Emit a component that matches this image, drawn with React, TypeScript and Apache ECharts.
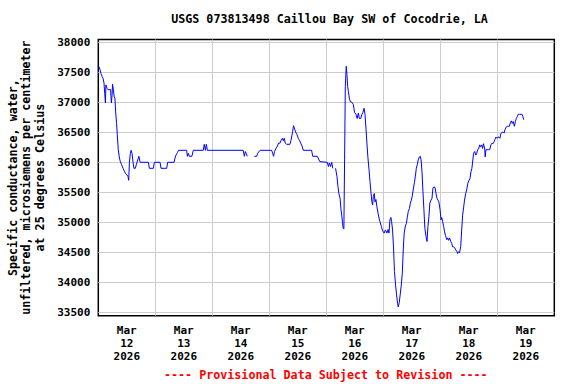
import React, { useEffect, useRef } from 'react';
import * as echarts from 'echarts';

const TITLE = 'USGS 073813498 Caillou Bay SW of Cocodrie, LA';
const Y_TITLE = 'Specific conductance, water,\nunfiltered, microsiemens per centimeter\nat 25 degrees Celsius';
const FOOTNOTE = '---- Provisional Data Subject to Revision ----';
const DAY_LABELS = ['Mar\n12\n2026', 'Mar\n13\n2026', 'Mar\n14\n2026', 'Mar\n15\n2026', 'Mar\n16\n2026', 'Mar\n17\n2026', 'Mar\n18\n2026', 'Mar\n19\n2026'];
const Y_MIN = 33500;
const Y_MAX = 38000;
const Y_STEP = 500;
const X_MAX_HOURS = 192; // Mar 12 00:00 -> Mar 20 00:00
const X_STEP_HOURS = 24;

// hours since 2026-03-12 00:00
const hours = [
  0.0, 0.3, 0.7, 1.1, 1.6, 2.0, 2.4, 2.7, 3.0, 3.2, 3.7, 4.1, 5.2, 5.3, 5.5, 5.8, 6.0, 6.3, 6.7, 7.0,
  7.3, 7.7, 8.0, 8.4, 8.9, 9.3, 9.8, 10.4, 11.0, 11.5, 12.1, 12.5, 12.8, 13.1, 13.5, 13.8, 14.2, 14.6, 15.0, 15.6,
  16.0, 16.6, 17.1, 17.6, 18.0, 21.1, 21.5, 23.2, 23.6, 26.0, 26.4, 28.8, 29.2, 31.9, 32.3, 32.7, 33.3, 33.8, 37.2, 37.5,
  37.9, 38.3, 39.4, 40.0, 44.2, 44.6, 45.1, 45.5, 45.9, 61.0, 61.5, 61.9, 62.3, 62.7, 64.2,
  65.7, 66.7, 67.1, 68.1, 73.0, 73.4, 73.8, 74.2, 74.8, 75.4, 75.9, 76.5, 76.9, 77.5, 77.9, 78.3, 78.7, 79.3, 80.7, 81.1,
  81.5, 81.8, 82.2, 82.7, 83.1, 83.7, 84.2, 84.8, 85.2, 85.8, 86.3, 89.8, 90.3, 92.2, 93.3, 96.4, 96.9, 97.3, 97.8, 98.3,
  98.7, 99.3,
  99.9, 100.5, 100.9, 101.3, 101.8, 102.2, 102.5, 102.8, 103.1, 103.4, 103.7, 104.0, 104.4, 104.7, 105.0, 105.3, 105.7, 106.1, 106.8, 107.4,
  107.9, 108.5, 109.0, 109.5, 109.9, 110.5, 111.0, 111.4, 111.9, 112.3, 112.7, 113.1, 113.5, 114.0, 114.4, 114.8, 115.2, 115.5, 115.8, 116.2,
  116.5, 116.9, 117.3, 117.8, 118.2, 118.6, 119.2, 119.6, 120.0, 120.4, 120.8, 121.1, 121.5, 122.0, 122.4, 122.8, 123.2, 123.5, 123.9, 124.3,
  124.7, 125.2, 125.6, 126.0, 126.3, 126.7, 127.1, 127.5, 128.0, 128.4, 128.8, 129.3, 129.7, 130.1, 130.5, 131.0, 131.4, 131.8, 132.2, 132.7,
  133.1, 133.5, 133.9, 134.3, 134.7, 135.2, 135.6, 135.9, 136.3, 136.7, 137.1, 137.5, 138.0, 138.4, 138.8, 139.2, 139.6, 140.1, 140.5, 140.9,
  141.3, 141.8, 142.2, 142.6, 143.0, 143.4, 143.9, 144.3, 144.6, 145.0, 145.4, 145.8, 146.2, 146.7, 147.1, 147.5, 147.9, 148.4, 148.8, 149.2,
  149.6, 150.0, 150.5, 150.9, 151.3, 151.7, 152.1, 152.6, 153.0, 153.4, 153.8, 154.2, 154.7, 155.1, 155.6, 156.1, 156.5, 156.9, 157.3, 157.8,
  158.0, 158.5, 158.9, 159.3, 159.7, 160.1, 160.6, 161.0, 161.4, 161.8, 162.2, 162.7, 162.9, 163.2, 164.2, 164.8, 165.3, 165.8, 166.2, 166.6,
  167.0, 167.4, 167.9, 168.3, 168.7, 169.1, 169.5, 170.1, 170.5, 170.9, 171.2, 171.8, 172.2, 172.6, 173.1, 173.5, 173.9, 174.3, 174.7, 175.2,
  175.6, 176.0, 176.4, 176.8, 177.4, 178.0, 178.4, 178.8, 179.1,
];

// specific conductance, µS/cm at 25 °C (null = gap in record)
const conductance = [
  37610, 37590, 37550, 37480, 37430, 37400, 37320, 37150, 36990, 37290, 37230, 37210, 37210, 37120, 36990, 37120, 37300, 37220, 37090, 37070,
  36840, 36650, 36460, 36210, 36070, 36010, 35960, 35900, 35850, 35810, 35790, 35760, 35700, 36000, 36150, 36200, 36150, 36010, 35900, 35900,
  35960, 36040, 36100, 36000, 36000, 36000, 35900, 35900, 36000, 36000, 35900, 35900, 36000, 36000, 36070, 36120, 36160, 36200, 36200, 36100,
  36150, 36100, 36100, 36200, 36200, 36300, 36200, 36300, 36200, 36200, 36100, 36180, 36150, 36100, null,
  36100, 36100, 36150, 36200, 36200, 36150, 36100, 36180, 36230, 36270, 36320, 36320, 36360, 36400, 36360, 36400, 36320, 36300, 36300, 36360,
  36440, 36510, 36610, 36550, 36500, 36460, 36400, 36360, 36320, 36270, 36200, 36200, 36100, 36100, 36010, 36000, 35930, 35990, 35930, 36000,
  35900, null,
  35900, 35760, 35600, 35480, 35400, 35210, 35120, 35000, 34900, 34890, 36040, 37260, 37600, 37460, 37260, 37180, 37070, 37010, 37000, 36960,
  36830, 36800, 36730, 36820, 36730, 36730, 36800, 36830, 36900, 36800, 36570, 36320, 36090, 35870, 35680, 35500, 35340, 35290, 35430, 35480,
  35340, 35380, 35260, 35150, 35070, 35010, 34930, 34870, 34840, 34820, 34870, 34860, 34820, 34880, 34820, 35040, 35080, 35010, 34870, 34590,
  34180, 33940, 33790, 33650, 33590, 33660, 33790, 33930, 34150, 34540, 34820, 34940, 34980, 35080, 35180, 35230, 35320, 35370, 35440, 35570,
  35660, 35770, 35900, 35960, 36040, 36090, 36100, 36040, 35840, 35510, 35210, 34900, 34760, 34680, 34930, 35090, 35320, 35370, 35400, 35570,
  35590, 35580, 35480, 35400, 35370, 35340, 35210, 35040, 35080, 35010, 34930, 34840, 34780, 34710, 34740, 34700, 34740, 34680, 34650, 34590,
  34590, 34580, 34540, 34520, 34480, 34510, 34490, 34600, 34870, 35120, 35240, 35370, 35480, 35540, 35650, 35700, 35730, 35840, 35900, 36070,
  36150, 36180, 36120, 36140, 36210, 36220, 36290, 36260, 36290, 36230, 36310, 36220, 36090, 36210, 36210, 36210, 36290, 36320, 36310, 36340,
  36380, 36420, 36400, 36420, 36420, 36400, 36480, 36500, 36500, 36490, 36540, 36590, 36600, 36600, 36600, 36660, 36690, 36650, 36680, 36600,
  36680, 36730, 36760, 36800, 36800, 36800, 36800, 36760, 36710,
];

const FONT = 'DejaVu Sans Mono';

export default function App() {
  const ref = useRef<HTMLDivElement>(null);
  useEffect(() => {
    if (!ref.current) return;
    const chart = echarts.init(ref.current, null, { renderer: 'svg' });
    const seriesData = hours.map((h, i) => [h, conductance[i] === null ? '-' : conductance[i]]);
    chart.setOption({
      animation: false,
      backgroundColor: '#ffffff',
      grid: [
        { left: 98.3, right: 21.7, top: 42.3, bottom: 71.7 },
        { left: 98.3, right: 21.7, top: 39.5, bottom: 68.3, show: true, borderColor: '#000000', borderWidth: 1.5, backgroundColor: 'transparent' },
      ],
      xAxis: [
        { gridIndex: 0, type: 'value', min: 0, max: X_MAX_HOURS, show: false },
        {
          gridIndex: 1, type: 'value', position: 'top', min: 0, max: X_MAX_HOURS, interval: X_STEP_HOURS,
          axisLine: { show: false }, axisTick: { show: false }, axisLabel: { show: false },
          splitLine: { show: true, showMinLine: false, showMaxLine: false, lineStyle: { color: '#cccccc', width: 1 } },
        },
        {
          gridIndex: 1, type: 'category', position: 'bottom', data: DAY_LABELS, boundaryGap: true,
          axisLine: { show: false }, axisTick: { show: false }, splitLine: { show: false },
          axisLabel: { interval: 0, margin: 8, color: '#000000', fontFamily: FONT, fontWeight: 'bold', fontSize: 11, lineHeight: 13 },
        },
      ],
      yAxis: [
        {
          gridIndex: 0, type: 'value', min: Y_MIN, max: Y_MAX, interval: Y_STEP,
          axisLine: { show: false }, axisTick: { show: false },
          axisLabel: { margin: 8, color: '#000000', fontFamily: FONT, fontWeight: 'bold', fontSize: 11, formatter: (v: number) => String(v) },
          splitLine: { show: true, lineStyle: { color: '#cccccc', width: 1 } },
        },
        { gridIndex: 1, type: 'value', min: 0, max: 1, show: false },
      ],
      series: [
        {
          type: 'line', xAxisIndex: 0, yAxisIndex: 0, data: seriesData, showSymbol: false, connectNulls: false,
          lineStyle: { color: '#0000ff', width: 1 }, silent: true,
        },
      ],
      graphic: [
        {
          type: 'text', x: 329.5, y: 19,
          style: { text: TITLE, fill: '#000000', font: `bold 11.7px "${FONT}"`, align: 'center', verticalAlign: 'middle' },
        },
        {
          type: 'text', x: 26, y: 177.6, rotation: Math.PI / 2,
          style: { text: Y_TITLE, fill: '#000000', font: `bold 11.7px "${FONT}"`, align: 'center', verticalAlign: 'middle', lineHeight: 13.5 },
        },
        {
          type: 'text', x: 325.8, y: 375,
          style: { text: FOOTNOTE, fill: '#ff0000', font: `bold 11.7px "${FONT}"`, align: 'center', verticalAlign: 'middle' },
        },
      ],
    });
    return () => chart.dispose();
  }, []);
  return <div ref={ref} style={{ width: 576, height: 384, position: 'absolute', left: 0, top: 0 }} />;
}
